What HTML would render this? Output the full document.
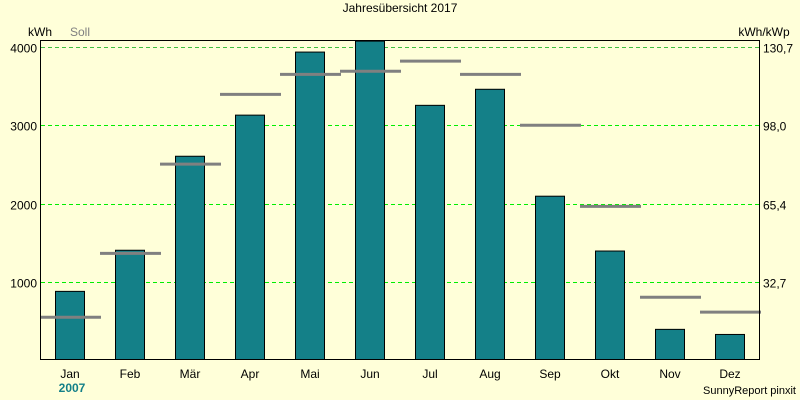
<!DOCTYPE html>
<html><head><meta charset="utf-8"><style>
body{margin:0;background:#ffffd9;}
svg{display:block;font-family:"Liberation Sans",sans-serif;}
</style></head><body>
<svg id="c" width="800" height="400">
<rect width="800" height="400" fill="#ffffd9"/>
<text x="400" y="12" font-size="12" text-anchor="middle">Jahresübersicht 2017</text>
<text x="28" y="36" font-size="12">kWh</text>
<text x="70" y="36" font-size="12" fill="#808080">Soll</text>
<text x="764" y="36" font-size="12" text-anchor="middle">kWh/kWp</text>
<text x="72" y="392" font-size="12" font-weight="bold" fill="#148088" text-anchor="middle">2007</text>
<text x="796" y="394" font-size="11" text-anchor="end">SunnyReport pinxit</text>
<g id="grid"></g><g id="bars"></g><g id="soll"></g><g id="labels"></g>
<rect x="40.5" y="40.5" width="719" height="319" fill="none" stroke="#000"/>
</svg>
<script>
const months=["Jan","Feb","Mär","Apr","Mai","Jun","Jul","Aug","Sep","Okt","Nov","Dez"];
const actual=[880,1405,2605,3130,3935,4075,3255,3460,2095,1395,395,330];
const target=[550,1365,2505,3395,3650,3690,3820,3650,3000,1965,805,615];
const leftTicks=[1000,2000,3000,4000];
const rightTicks=["32,7","65,4","98,0","130,7"];
const NS="http://www.w3.org/2000/svg";
const y=v=>360.3-v*0.07833;
const xc=i=>70+i*60;
function mk(t,a,p){const e=document.createElementNS(NS,t);for(const k in a)e.setAttribute(k,a[k]);document.getElementById(p).appendChild(e);return e;}
leftTicks.forEach((v,i)=>{
 const yy=Math.round(y(v))+0.5;
 const g=mk("line",{x1:41,x2:759,y1:yy,y2:yy,stroke:i==3?"#40c040":"#00ee00","stroke-dasharray":"4,3"},"grid");
 
 
 const t=mk("text",{x:37,y:yy+5,"font-size":12,"text-anchor":"end"},"labels");t.textContent=v;
 
 
 const r=mk("text",{x:763,y:yy+5,"font-size":12},"labels");r.textContent=rightTicks[i];
 
 
});
months.forEach((m,i)=>{
 const top=y(actual[i]);
 const b=mk("rect",{x:xc(i)-14.5,y:top,width:29,height:359.5-top,fill:"#148088",stroke:"#000"},"bars");
 
 
 const s=mk("line",{x1:xc(i)-30,x2:xc(i)+31,y1:y(target[i]),y2:y(target[i]),stroke:"#808080","stroke-width":3},"soll");
 
 
 const t=mk("text",{x:xc(i),y:378,"font-size":12,"text-anchor":"middle"},"labels");t.textContent=m;
 
 
});
</script>
</body></html>
